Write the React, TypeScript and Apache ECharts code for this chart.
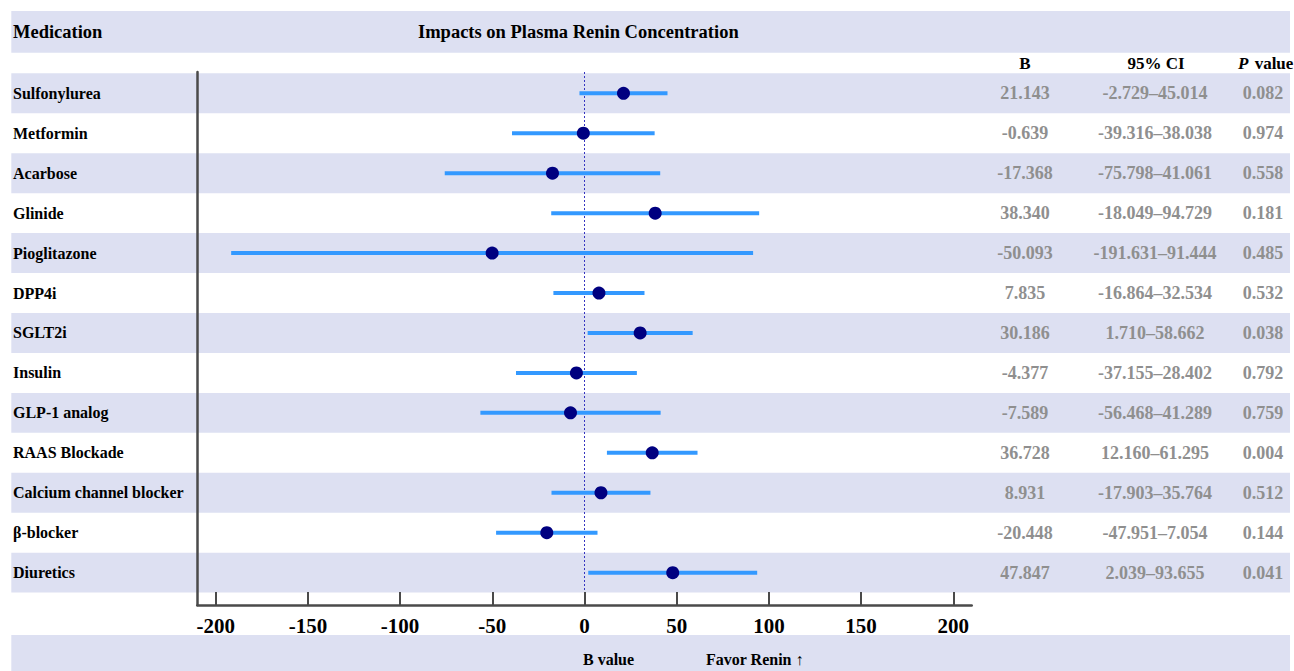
import React, { useEffect, useRef } from "react";
import * as echarts from "echarts";

const medications = [
  "Sulfonylurea",
  "Metformin",
  "Acarbose",
  "Glinide",
  "Pioglitazone",
  "DPP4i",
  "SGLT2i",
  "Insulin",
  "GLP-1 analog",
  "RAAS Blockade",
  "Calcium channel blocker",
  "β-blocker",
  "Diuretics",
];
const bValues = [21.143, -0.639, -17.368, 38.34, -50.093, 7.835, 30.186, -4.377, -7.589, 36.728, 8.931, -20.448, 47.847];
const ciLower = [-2.729, -39.316, -75.798, -18.049, -191.631, -16.864, 1.71, -37.155, -56.468, 12.16, -17.903, -47.951, 2.039];
const ciUpper = [45.014, 38.038, 41.061, 94.729, 91.444, 32.534, 58.662, 28.402, 41.289, 61.295, 35.764, 7.054, 93.655];
const pValues = ["0.082", "0.974", "0.558", "0.181", "0.485", "0.532", "0.038", "0.792", "0.759", "0.004", "0.512", "0.144", "0.041"];
const xTicks = [-200, -150, -100, -50, 0, 50, 100, 150, 200];

const SERIF = '"Liberation Serif", "Times New Roman", serif';
const BAND = "#dde0f2";
const LEFT = 11.3;
const RIGHT = 1290;

export default function App() {
  const ref = useRef<HTMLDivElement>(null);
  useEffect(() => {
    if (!ref.current) return;
    const chart = echarts.init(ref.current, null, { renderer: "svg" });
    const rowIdx = medications.map((_, i) => i);
    const option: any = {
      animation: false,
      backgroundColor: "#ffffff",
      grid: { left: 197.3, top: 72, width: 774.4, height: 533, containLabel: false },
      xAxis: {
        type: "value",
        min: -210,
        max: 210,
        z: 5,
        axisLine: { show: true, onZero: false, lineStyle: { color: "#4a4a4a", width: 2.5 } },
        axisTick: { show: true, inside: true, length: 13, customValues: xTicks, lineStyle: { color: "#4a4a4a", width: 2 } },
        axisLabel: {
          customValues: xTicks,
          margin: 10,
          fontSize: 21,
          fontWeight: "bold",
          color: "#000",
          fontFamily: SERIF,
        },
        splitLine: { show: false },
      },
      yAxis: {
        type: "value",
        inverse: true,
        min: -0.533,
        max: 12.81,
        z: 5,
        axisLine: { show: true, onZero: false, lineStyle: { color: "#4a4a4a", width: 2.5 } },
        axisTick: { show: false },
        axisLabel: { show: false },
        splitLine: { show: false },
      },
      graphic: [
        { type: "rect", z: -10, shape: { x: LEFT, y: 11, width: RIGHT - LEFT, height: 41.7 }, style: { fill: BAND } },
        { type: "rect", z: -10, shape: { x: LEFT, y: 635, width: RIGHT - LEFT, height: 40 }, style: { fill: BAND } },
        {
          type: "text", x: 13, y: 32,
          style: { text: "Medication", fontSize: 18.5, fontWeight: "bold", fontFamily: SERIF, fill: "#000", verticalAlign: "middle", align: "left" },
        },
        {
          type: "text", x: 418, y: 32,
          style: { text: "Impacts on Plasma Renin Concentration", fontSize: 18.5, fontWeight: "bold", fontFamily: SERIF, fill: "#000", verticalAlign: "middle", align: "left" },
        },
        {
          type: "text", x: 1025, y: 63,
          style: { text: "B", fontSize: 17, fontWeight: "bold", fontFamily: SERIF, fill: "#000", verticalAlign: "middle", align: "center" },
        },
        {
          type: "text", x: 1156, y: 63,
          style: { text: "95% CI", fontSize: 17, fontWeight: "bold", fontFamily: SERIF, fill: "#000", verticalAlign: "middle", align: "center" },
        },
        {
          type: "text", x: 1238, y: 63,
          style: {
            text: "{i|P} value",
            fontSize: 17, fontWeight: "bold", fontFamily: SERIF, fill: "#000", verticalAlign: "middle", align: "left",
            rich: { i: { fontStyle: "italic", fontWeight: "bold", fontSize: 17, fontFamily: SERIF, fill: "#000", padding: [0, 2, 0, 0] } },
          },
        },
        {
          type: "text", x: 583, y: 659,
          style: { text: "B value", fontSize: 16, fontWeight: "bold", fontFamily: SERIF, fill: "#000", verticalAlign: "middle", align: "left" },
        },
        {
          type: "text", x: 706, y: 659,
          style: { text: "Favor Renin ↑", fontSize: 16, fontWeight: "bold", fontFamily: SERIF, fill: "#000", verticalAlign: "middle", align: "left" },
        },
      ],
      series: [
        {
          type: "custom",
          name: "bands",
          z: 0,
          silent: true,
          data: rowIdx.filter((i) => i % 2 === 0).map((i) => [0, i]),
          renderItem: (params: any, api: any) => {
            const c = api.coord([0, api.value(1)]);
            const h = Math.abs(api.size([0, 1])[1]);
            return {
              type: "rect",
              shape: { x: LEFT, y: c[1] - h / 2, width: RIGHT - LEFT, height: h },
              style: { fill: BAND },
            };
          },
        },
        {
          type: "custom",
          name: "table",
          z: 4,
          silent: true,
          data: rowIdx.map((i) => [0, i]),
          renderItem: (params: any, api: any) => {
            const i = api.value(1);
            const c = api.coord([0, i]);
            const y = c[1];
            const gray = "#8f8f8f";
            return {
              type: "group",
              children: [
                { type: "text", x: 13, y, style: { text: medications[i], fontSize: 16, fontWeight: "bold", fontFamily: SERIF, fill: "#000", align: "left", verticalAlign: "middle" } },
                { type: "text", x: 1025, y, style: { text: bValues[i].toFixed(3), fontSize: 18, fontWeight: "bold", fontFamily: SERIF, fill: gray, align: "center", verticalAlign: "middle" } },
                { type: "text", x: 1155, y, style: { text: ciLower[i].toFixed(3) + "–" + ciUpper[i].toFixed(3), fontSize: 18, fontWeight: "bold", fontFamily: SERIF, fill: gray, align: "center", verticalAlign: "middle" } },
                { type: "text", x: 1263, y, style: { text: pValues[i], fontSize: 18, fontWeight: "bold", fontFamily: SERIF, fill: gray, align: "center", verticalAlign: "middle" } },
              ],
            };
          },
        },
        {
          type: "scatter",
          name: "zero",
          z: 3,
          data: [],
          markLine: {
            silent: true,
            symbol: "none",
            label: { show: false },
            lineStyle: { color: "#3535c0", width: 1, type: [2, 2] },
            data: [{ xAxis: 0 }],
          },
        },
        {
          type: "custom",
          name: "CI",
          z: 6,
          data: rowIdx.map((i) => [ciLower[i], ciUpper[i], i]),
          renderItem: (params: any, api: any) => {
            const a = api.coord([api.value(0), api.value(2)]);
            const b = api.coord([api.value(1), api.value(2)]);
            return {
              type: "line",
              shape: { x1: a[0], y1: a[1], x2: b[0], y2: b[1] },
              style: { stroke: "#3399ff", lineWidth: 4 },
            };
          },
        },
        {
          type: "scatter",
          name: "B",
          z: 7,
          symbol: "circle",
          symbolSize: 13,
          itemStyle: { color: "#000080", opacity: 1 },
          data: rowIdx.map((i) => [bValues[i], i]),
        },
      ],
    };
    chart.setOption(option);
    return () => chart.dispose();
  }, []);
  return (
    <div
      ref={ref}
      style={{ position: "fixed", left: 0, top: 0, width: 1294, height: 671, background: "#fff" }}
    />
  );
}
